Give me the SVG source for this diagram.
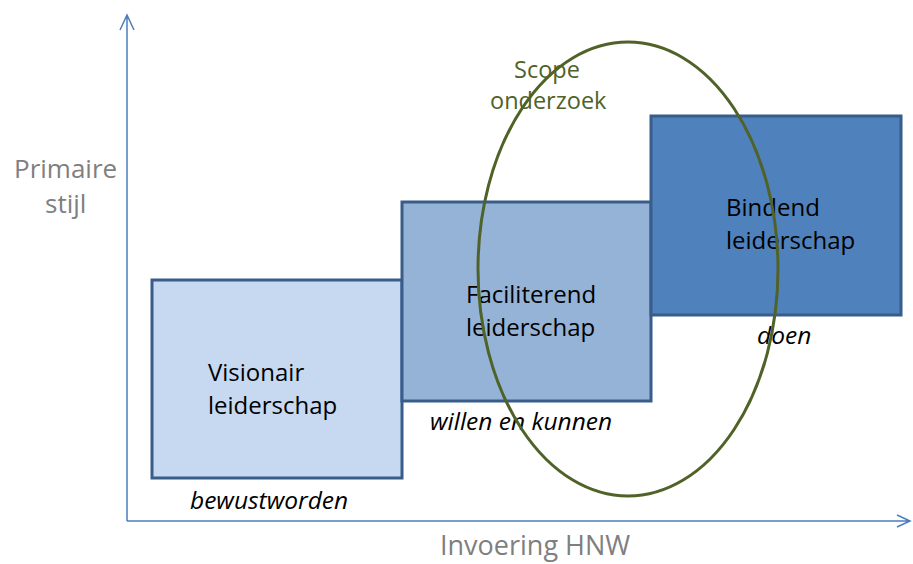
<svg xmlns="http://www.w3.org/2000/svg" width="913" height="564" viewBox="0 0 913 564">
<style>
.box{stroke:#385d8a;stroke-width:3}
.t{font-family:"Open Sans","Liberation Sans",sans-serif;font-size:24px;fill:#000}
.i{font-family:"Open Sans","Liberation Sans",sans-serif;font-size:24.5px;font-style:italic;fill:#000}
.g{font-family:"Open Sans","Liberation Sans",sans-serif;font-size:26px;fill:#7f7f7f}
.s{font-family:"Open Sans","Liberation Sans",sans-serif;font-size:23.5px;fill:#4f6228}
.ax{stroke:#4a7ebb;stroke-width:1.5;fill:none}
</style>
<rect width="913" height="564" fill="#fff"/>
<g id="axes">
<path class="ax" d="M127,521 V15 M120,30 L127,15 L134,30"/>
<path class="ax" d="M127,521 H910 M897,515 L910,521 L897,527"/>
<text class="g" x="14" y="178">Primaire</text>
<text class="g" x="45" y="213">stijl</text>
<text class="g" x="440" y="555" style="font-size:27px">Invoering HNW</text>
</g>
<g id="visionair">
<rect class="box" x="152" y="280" width="250" height="198" fill="#c6d9f1"/>
<text class="t" x="208" y="381">Visionair</text>
<text class="t" x="208" y="414">leiderschap</text>
<text class="i" x="190" y="509">bewustworden</text>
</g>
<g id="faciliterend">
<rect class="box" x="402" y="202" width="249" height="199" fill="#95b3d7"/>
<text class="t" x="466" y="303">Faciliterend</text>
<text class="t" x="466" y="336">leiderschap</text>
<text class="i" x="430" y="430">willen en kunnen</text>
</g>
<g id="bindend">
<rect class="box" x="651" y="116" width="250" height="199" fill="#4f81bd"/>
<text class="t" x="726" y="216">Bindend</text>
<text class="t" x="726" y="249">leiderschap</text>
<text class="i" x="757" y="344">doen</text>
</g>
<g id="scope">
<ellipse cx="628" cy="269" rx="150" ry="227" fill="none" stroke="#4f6228" stroke-width="3"/>
<text class="s" x="514" y="78">Scope</text>
<text class="s" x="490" y="109">onderzoek</text>
</g>
</svg>
